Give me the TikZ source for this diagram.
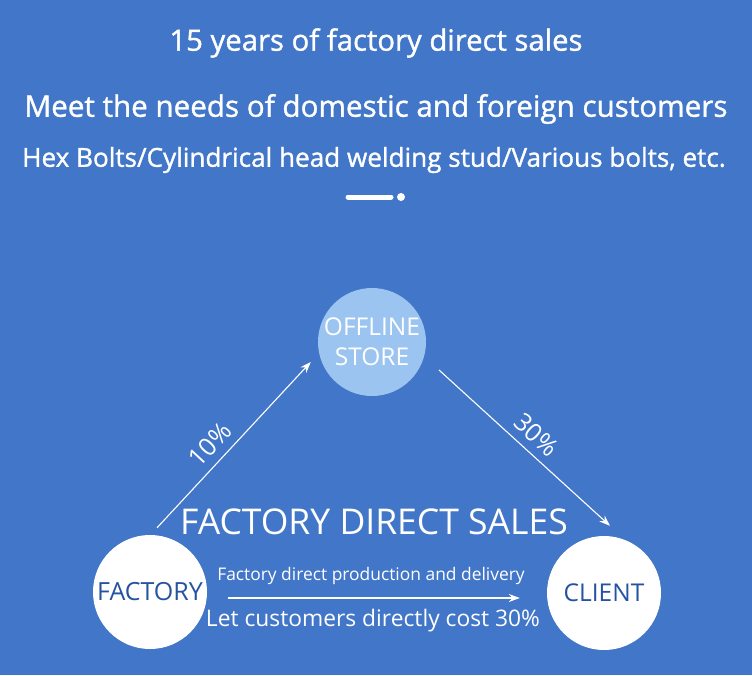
\documentclass[tikz,border=0pt]{standalone}
\usepackage{fontspec}
\setmainfont{Open Sans}
\newfontfamily\semib[FakeBold=1.2]{Open Sans}
\usetikzlibrary{arrows.meta}
\definecolor{bg}{RGB}{66,118,200}
\definecolor{storec}{RGB}{155,196,240}
\definecolor{darkb}{RGB}{38,82,162}
\begin{document}
\begin{tikzpicture}[x=1pt,y=-1pt,
  title/.style={text=white,inner sep=0pt,anchor=center},
  wcirc/.style={circle,fill=white,minimum size=114pt,inner sep=0pt,text=darkb,font=\fontsize{25}{30}\selectfont},
  conn/.style={draw=white,line width=1.1pt,-{Stealth[length=11pt,width=8pt]}},
  pct/.style={text=white,font=\fontsize{25}{30}\selectfont,inner sep=0pt}]
\fill[bg] (0,0) rectangle (752,675);
\useasboundingbox (0,0) rectangle (752,675);
\node[title,font=\semib\fontsize{29.3}{34}\selectfont] (t1) at (376,43) {15 years of factory direct sales};
\node[title,font=\semib\fontsize{29.6}{34}\selectfont] (t2) at (376,109) {Meet the needs of domestic and foreign customers};
\node[title,font=\semib\fontsize{26.1}{30}\selectfont] (t3) at (374,160) {Hex Bolts/Cylindrical head welding stud/Various bolts, etc.};
\coordinate (d1) at (348,197);
\coordinate (d2) at (391,197);
\draw[white,line width=5pt,line cap=round] (d1) -- (d2);
\node[circle,fill=white,minimum size=8pt,inner sep=0pt] (dot) at (401,197) {};
% circles
\node[circle,fill=storec,minimum size=108pt,inner sep=0pt,text=white,align=center,font=\fontsize{24.5}{30}\selectfont] (store) at (372,342) {OFFLINE\\STORE};
\node[wcirc] (factory) at (150,592) {FACTORY};
\node[wcirc,font=\fontsize{24.5}{30}\selectfont] (client) at (604,593) {CLIENT};
% arrows
\draw[conn] ([shift={(7,-7)}]factory.north) -- ([shift={(-7,20)}]store.west) node[pct,pos=0.43,sloped,above=8pt] {10\%};
\draw[conn] ([shift={(67,28)}]store.center) -- ([shift={(6,-10)}]client.north) node[pct,pos=0.5,sloped,above=8pt] {30\%};
\draw[conn] ([shift={(21,6)}]factory.east) -- ([shift={(-27,5)}]client.west);
\node[title,font=\fontsize{35.5}{40}\selectfont] (fds) at (374,522) {FACTORY DIRECT SALES};
\node[title,font=\fontsize{17.4}{20}\selectfont] (l1) at (371,576) {Factory direct production and delivery};
\node[title,font=\fontsize{22.8}{26}\selectfont] (l2) at (373,621) {Let customers directly cost 30\%};
\end{tikzpicture}
\end{document}
